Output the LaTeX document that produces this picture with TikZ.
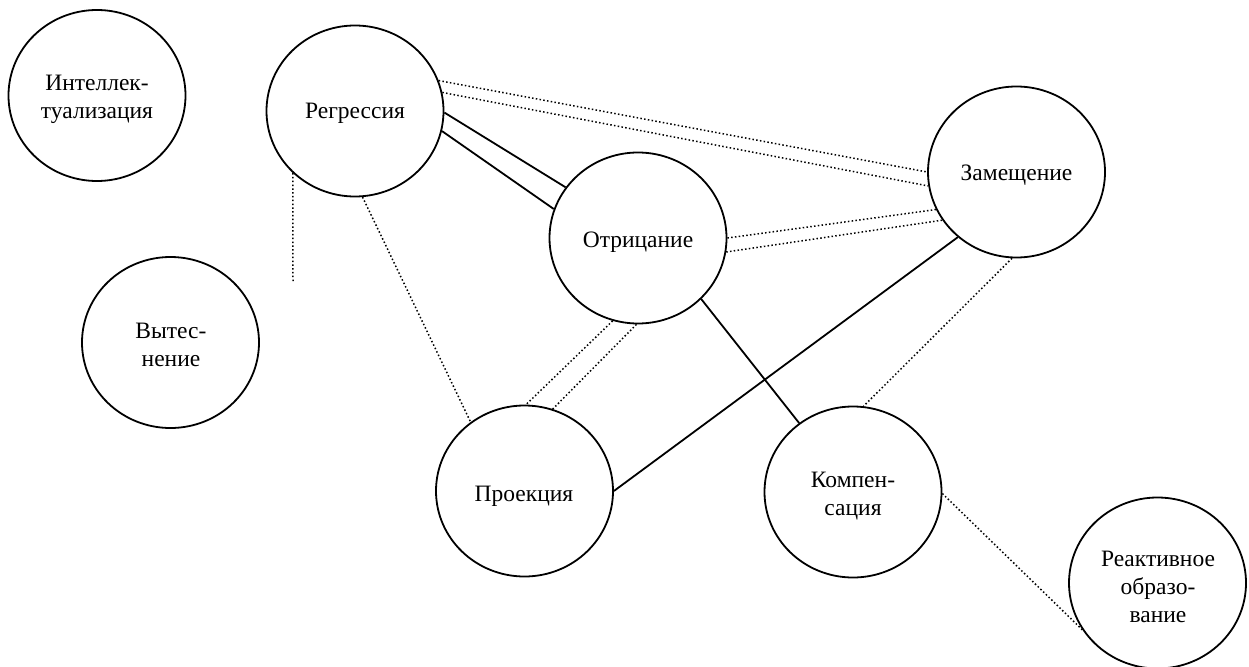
\documentclass[tikz,border=0pt]{standalone}
\usepackage{fontspec}
\setmainfont{Liberation Serif}
\usetikzlibrary{shapes.geometric}

\begin{document}
\begin{tikzpicture}[x=1pt, y=-1pt,
  defence/.style={draw, line width=1.8pt, ellipse, minimum width=177pt,
    minimum height=171pt, inner sep=0pt},
  caption/.style={font=\rmfamily\fontsize{23.5}{28}\selectfont, align=center,
    anchor=base, inner sep=0pt},
  tie/.style={line width=1.8pt},
  loose/.style={line width=1.5pt, dash pattern=on 1.5pt off 2.3pt},
]
\useasboundingbox (0,0) rectangle (1249,666);

% defence mechanisms
\node[defence] (intel) at (97,95.5) {};
\node[defence] (vyt)   at (170.5,342.5) {};
\node[defence] (reg)   at (355,111) {};
\node[defence] (otr)   at (638,238) {};
\node[defence] (zam)   at (1016.5,172) {};
\node[defence] (proj)  at (524.5,491) {};
\node[defence] (komp)  at (853,492) {};
\node[defence] (react) at (1157.5,583) {};

% captions (base anchor = baseline of the last line)
\node[caption] (intel-t) at (97,118)   {Интеллек-\\туализация};
\node[caption] (vyt-t)   at (171,366)  {Вытес-\\нение};
\node[caption] (reg-t)   at (355,119)  {Регрессия};
\node[caption] (otr-t)   at (638,247)  {Отрицание};
\node[caption] (zam-t)   at (1016.5,180) {Замещение};
\node[caption] (proj-t)  at (524,501)  {Проекция};
\node[caption] (komp-t)  at (853,515)  {Компен-\\сация};
\node[caption] (react-t) at (1158,622) {Реактивное\\образо-\\вание};

% solid links
\draw[tie] (reg.-1.3)  -- (otr.145.8);
\draw[tie] (reg.-13.6) -- (otr.161.4);
\draw[tie] (zam.228.9) -- (proj.-0.7);
\draw[tie] (otr.-44.5) -- (komp.128.5);

% dotted links
\draw[loose] (reg.20.3) -- (zam.180);
\draw[loose] (reg.12.5) -- (zam.189.9);
\draw[loose] (otr.0)    -- (zam.205.2);
\draw[loose] (otr.-9.5) -- (zam.213.9);
\draw[loose] (zam.267)  -- (komp.83.2);
\draw[loose] (otr.253.2) -- (proj.89.7);
\draw[loose] (otr.269.4) -- (proj.71.7);
\draw[loose] (reg.275.9) -- (proj.128.8);
\draw[loose] (komp.-1.9) -- (react.212.3);
\coordinate (regtail) at (293,283);
\draw[loose] (reg.225) -- (regtail);
\end{tikzpicture}
\end{document}
